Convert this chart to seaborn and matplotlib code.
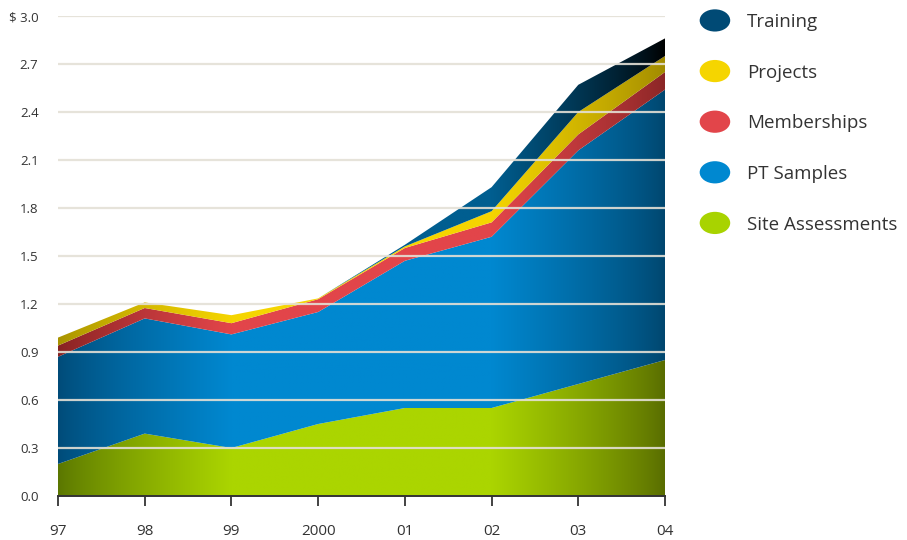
import numpy as np
import matplotlib
matplotlib.use("Agg")
import matplotlib.pyplot as plt
import matplotlib.colors as mcolors
from matplotlib.patches import Ellipse
from matplotlib.legend_handler import HandlerPatch
import seaborn as sns

# data (millions of $)
years = ["97", "98", "99", "2000", "01", "02", "03", "04"]
site_assessments = [0.20, 0.39, 0.30, 0.45, 0.55, 0.55, 0.70, 0.85]
pt_samples = [0.67, 0.72, 0.71, 0.70, 0.92, 1.07, 1.46, 1.69]
memberships = [0.07, 0.065, 0.07, 0.08, 0.08, 0.09, 0.10, 0.11]
projects = [0.05, 0.035, 0.05, 0.005, 0.01, 0.07, 0.14, 0.10]
training = [0.0, 0.0, 0.0, 0.0, 0.01, 0.15, 0.17, 0.11]

series = ["Site Assessments", "PT Samples", "Memberships", "Projects", "Training"]
values = [site_assessments, pt_samples, memberships, projects, training]
legend_colors = {"Training": "#004a75", "Projects": "#f5d500", "Memberships": "#e2454a",
                 "PT Samples": "#0088d0", "Site Assessments": "#a8d300"}
# (left edge, middle, right edge) shading of each band
shades = {"Site Assessments": ("#5a7600", "#abd500", "#586c00"),
          "PT Samples": ("#004b78", "#0088d0", "#00466e"),
          "Memberships": ("#862222", "#e2454a", "#8a2626"),
          "Projects": ("#a89300", "#f5d500", "#a08a00"),
          "Training": ("#00446c", "#005e90", "#000000")}
yticks = [0.0, 0.3, 0.6, 0.9, 1.2, 1.5, 1.8, 2.1, 2.4, 2.7, 3.0]
ytick_labels = ["0.0", "0.3", "0.6", "0.9", "1.2", "1.5", "1.8", "2.1", "2.4", "2.7", "$ 3.0"]

sns.set_theme(style="white")
plt.rcParams["font.family"] = ["Open Sans", "DejaVu Sans"]
text_col = "#333333"

fig = plt.figure(figsize=(9.07, 5.40), dpi=100)
ax = fig.add_axes([58 / 907, 1 - 496 / 540, (665 - 58) / 907, (496 - 16) / 540])

x = np.arange(len(years))
n_cols = 500
xs = np.linspace(x[0], x[-1], n_cols)


def weight(v):
    # 0 at the edges, 1 across the middle years
    left = np.clip(v / 2.0, 0, 1)
    right = np.clip((x[-1] - v) / 2.0, 0, 1)
    return np.minimum(left, right) ** 0.8


w = weight(xs)
bottom = np.zeros(len(years))
for name, vals in zip(series, values):
    top = bottom + np.array(vals)
    poly = ax.fill_between(x, bottom, top, facecolor="none", edgecolor="none")
    lc, mc, rc = (np.array(mcolors.to_rgb(c)) for c in shades[name])
    side = np.where(xs[:, None] < x[-1] / 2, lc, rc)
    cols = side + (mc - side) * w[:, None]
    img = np.repeat(cols[None, :, :], 2, axis=0)
    im = ax.imshow(img, extent=[x[0], x[-1], 0, 3.0], aspect="auto", origin="lower",
                   interpolation="bilinear", zorder=2)
    im.set_clip_path(poly.get_paths()[0], ax.transData)
    bottom = top

ax.set_xlim(x[0], x[-1])
ax.set_ylim(0, 3.0)
for yv in yticks[1:]:
    ax.axhline(yv, color="#e4e0d6", lw=1.6, alpha=0.9, zorder=3)

ax.set_yticks(yticks)
ax.set_yticklabels(ytick_labels, fontsize=9.5, color=text_col)
ax.set_xticks(x)
ax.set_xticklabels(years, fontsize=11, color=text_col)
ax.tick_params(axis="y", length=0, pad=14)
ax.tick_params(axis="x", direction="out", length=7, width=1.2, color="#222222", pad=13, bottom=True)
sns.despine(ax=ax, left=True)
ax.spines["bottom"].set_color("#333333")
ax.spines["bottom"].set_linewidth(1.4)
ax.spines["bottom"].set_zorder(5)
ax.grid(False)


class HandlerEllipse(HandlerPatch):
    def create_artists(self, legend, orig_handle, xdescent, ydescent, width, height, fontsize, trans):
        center = 0.5 * width - 0.5 * xdescent, 0.5 * height - 0.5 * ydescent
        p = Ellipse(xy=center, width=22, height=16)
        self.update_prop(p, orig_handle, legend)
        p.set_transform(trans)
        return [p]


order = ["Training", "Projects", "Memberships", "PT Samples", "Site Assessments"]
handles = [Ellipse((0, 0), 1, 1, facecolor=legend_colors[k], edgecolor="none") for k in order]
fig.legend(handles, order, handler_map={Ellipse: HandlerEllipse()}, loc="upper left",
           bbox_to_anchor=(684 / 907, 1 + 2 / 540), frameon=False, fontsize=13.5,
           labelspacing=1.74, handlelength=1.7, handletextpad=0.85, borderpad=0.3,
           labelcolor=text_col)

fig.savefig("out.png", dpi=100)
